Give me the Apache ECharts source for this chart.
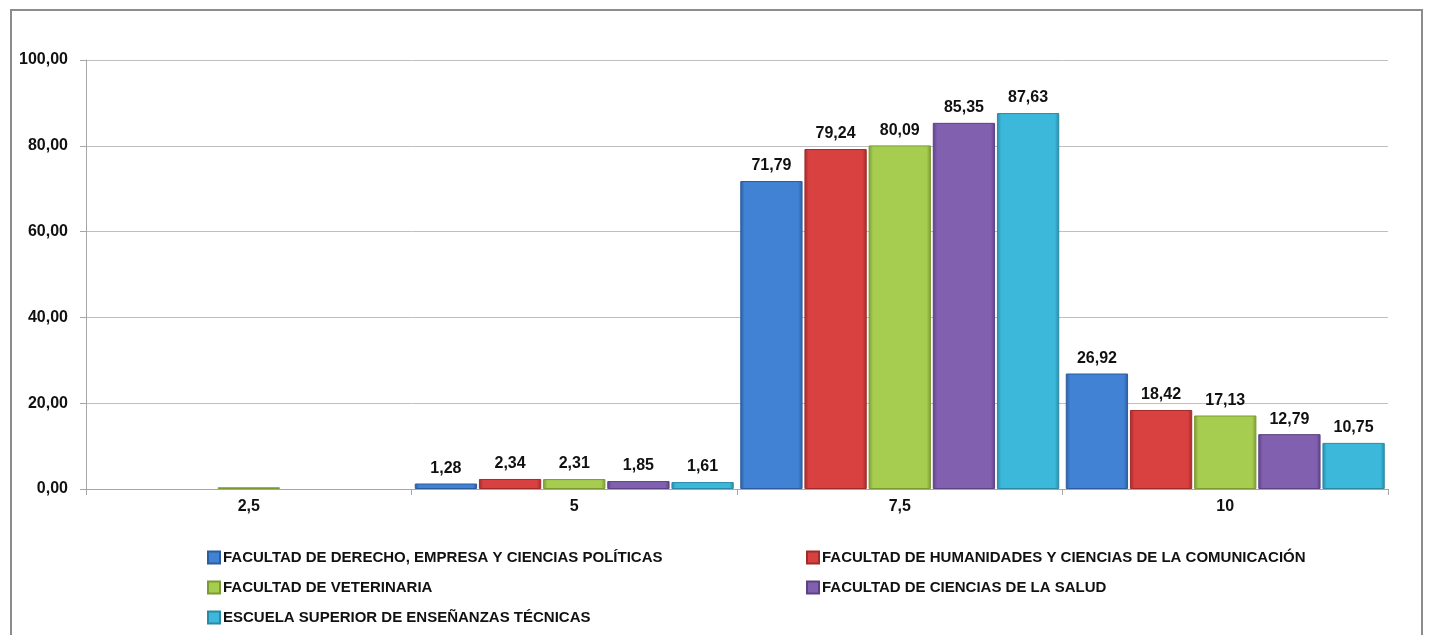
<!DOCTYPE html>
<html>
<head>
<meta charset="utf-8">
<script src="https://cdn.jsdelivr.net/npm/echarts@6/dist/echarts.min.js"></script>
<style>
html,body{margin:0;padding:0;background:#fff;}
#chart{width:1429px;height:635px;}
</style>
</head>
<body>
<div id="chart"></div>
<script>
const categories = ['2,5', '5', '7,5', '10'];
const seriesNames = [
  'FACULTAD DE DERECHO, EMPRESA Y CIENCIAS POLÍTICAS',
  'FACULTAD DE HUMANIDADES Y CIENCIAS DE LA COMUNICACIÓN',
  'FACULTAD DE VETERINARIA',
  'FACULTAD DE CIENCIAS DE LA SALUD',
  'ESCUELA SUPERIOR DE ENSEÑANZAS TÉCNICAS'
];
const derecho = [0, 1.28, 71.79, 26.92];
const humanidades = [0, 2.34, 79.24, 18.42];
const veterinaria = [0.4, 2.31, 80.09, 17.13];
const salud = [0, 1.85, 85.35, 12.79];
const escuela = [0, 1.61, 87.63, 10.75];
const yTicks = [0, 20, 40, 60, 80, 100];

const seriesValues = [derecho, humanidades, veterinaria, salud, escuela];
const baseColors = ['#4282d4', '#d94040', '#a6cc50', '#8160b0', '#3cb8da'];
const edgeColors = ['#2b5d9e', '#a02c2a', '#7a9a34', '#5d4283', '#2a8aa5'];

function grad(i) {
  return new echarts.graphic.LinearGradient(0, 0, 1, 0, [
    {offset: 0, color: edgeColors[i]},
    {offset: 0.07, color: baseColors[i]},
    {offset: 0.93, color: baseColors[i]},
    {offset: 1, color: edgeColors[i]}
  ]);
}
const fmt = v => v.toFixed(2).replace('.', ',');
const FONT = 'Liberation Sans';
const legendText = {fontFamily: FONT, fontWeight: 'bold', fontSize: 15, color: '#111', padding: [0, 0, 0, -2]};

const chart = echarts.init(document.getElementById('chart'));
chart.setOption({
  animation: false,
  textStyle: {fontFamily: FONT},
  graphic: [{
    type: 'rect', silent: true,
    shape: {x: 11, y: 10, width: 1411, height: 700},
    style: {fill: 'none', stroke: '#8c8c8c', lineWidth: 2}
  }],
  grid: {left: 86, right: 41, top: 60, bottom: 146},
  legend: [{
    data: [0, 2, 4].map(k => ({name: seriesNames[k], itemStyle: {color: baseColors[k]}})),
    orient: 'vertical', left: 207, top: 550, height: 120, padding: 0, itemGap: 15,
    itemWidth: 12, itemHeight: 12, icon: 'rect',
    textStyle: legendText
  }, {
    data: [1, 3].map(k => ({name: seriesNames[k], itemStyle: {color: baseColors[k]}})),
    orient: 'vertical', left: 806, top: 550, height: 120, padding: 0, itemGap: 15,
    itemWidth: 12, itemHeight: 12, icon: 'rect',
    textStyle: legendText
  }],
  xAxis: {
    type: 'category', data: categories,
    axisLine: {lineStyle: {color: '#a6a6a6', width: 1}},
    axisTick: {show: true, length: 6, lineStyle: {color: '#a6a6a6'}},
    axisLabel: {margin: 10, fontFamily: FONT, fontWeight: 'bold', fontSize: 16, color: '#111'}
  },
  yAxis: {
    type: 'value', min: yTicks[0], max: yTicks[yTicks.length - 1], interval: 20,
    axisLine: {show: true, lineStyle: {color: '#a6a6a6'}},
    axisTick: {show: true, length: 6, lineStyle: {color: '#a6a6a6'}},
    splitLine: {lineStyle: {color: '#bfbfbf'}},
    axisLabel: {margin: 18, fontFamily: FONT, fontWeight: 'bold', fontSize: 16, color: '#111',
      formatter: v => fmt(v)}
  },
  series: seriesValues.map((vals, i) => ({
    name: seriesNames[i],
    type: 'bar',
    barCategoryGap: '2%',
    barGap: '3%',
    data: vals.map((v, j) => ({
      value: v,
      label: {show: j > 0},
      itemStyle: v === 0 ? {opacity: 0} : {}
    })),
    itemStyle: {color: grad(i), borderColor: edgeColors[i], borderWidth: 1},
    label: {
      position: 'top', distance: 7,
      fontFamily: FONT, fontWeight: 'bold', fontSize: 16, color: '#111',
      formatter: p => fmt(p.value)
    }
  }))
});
</script>
</body>
</html>
